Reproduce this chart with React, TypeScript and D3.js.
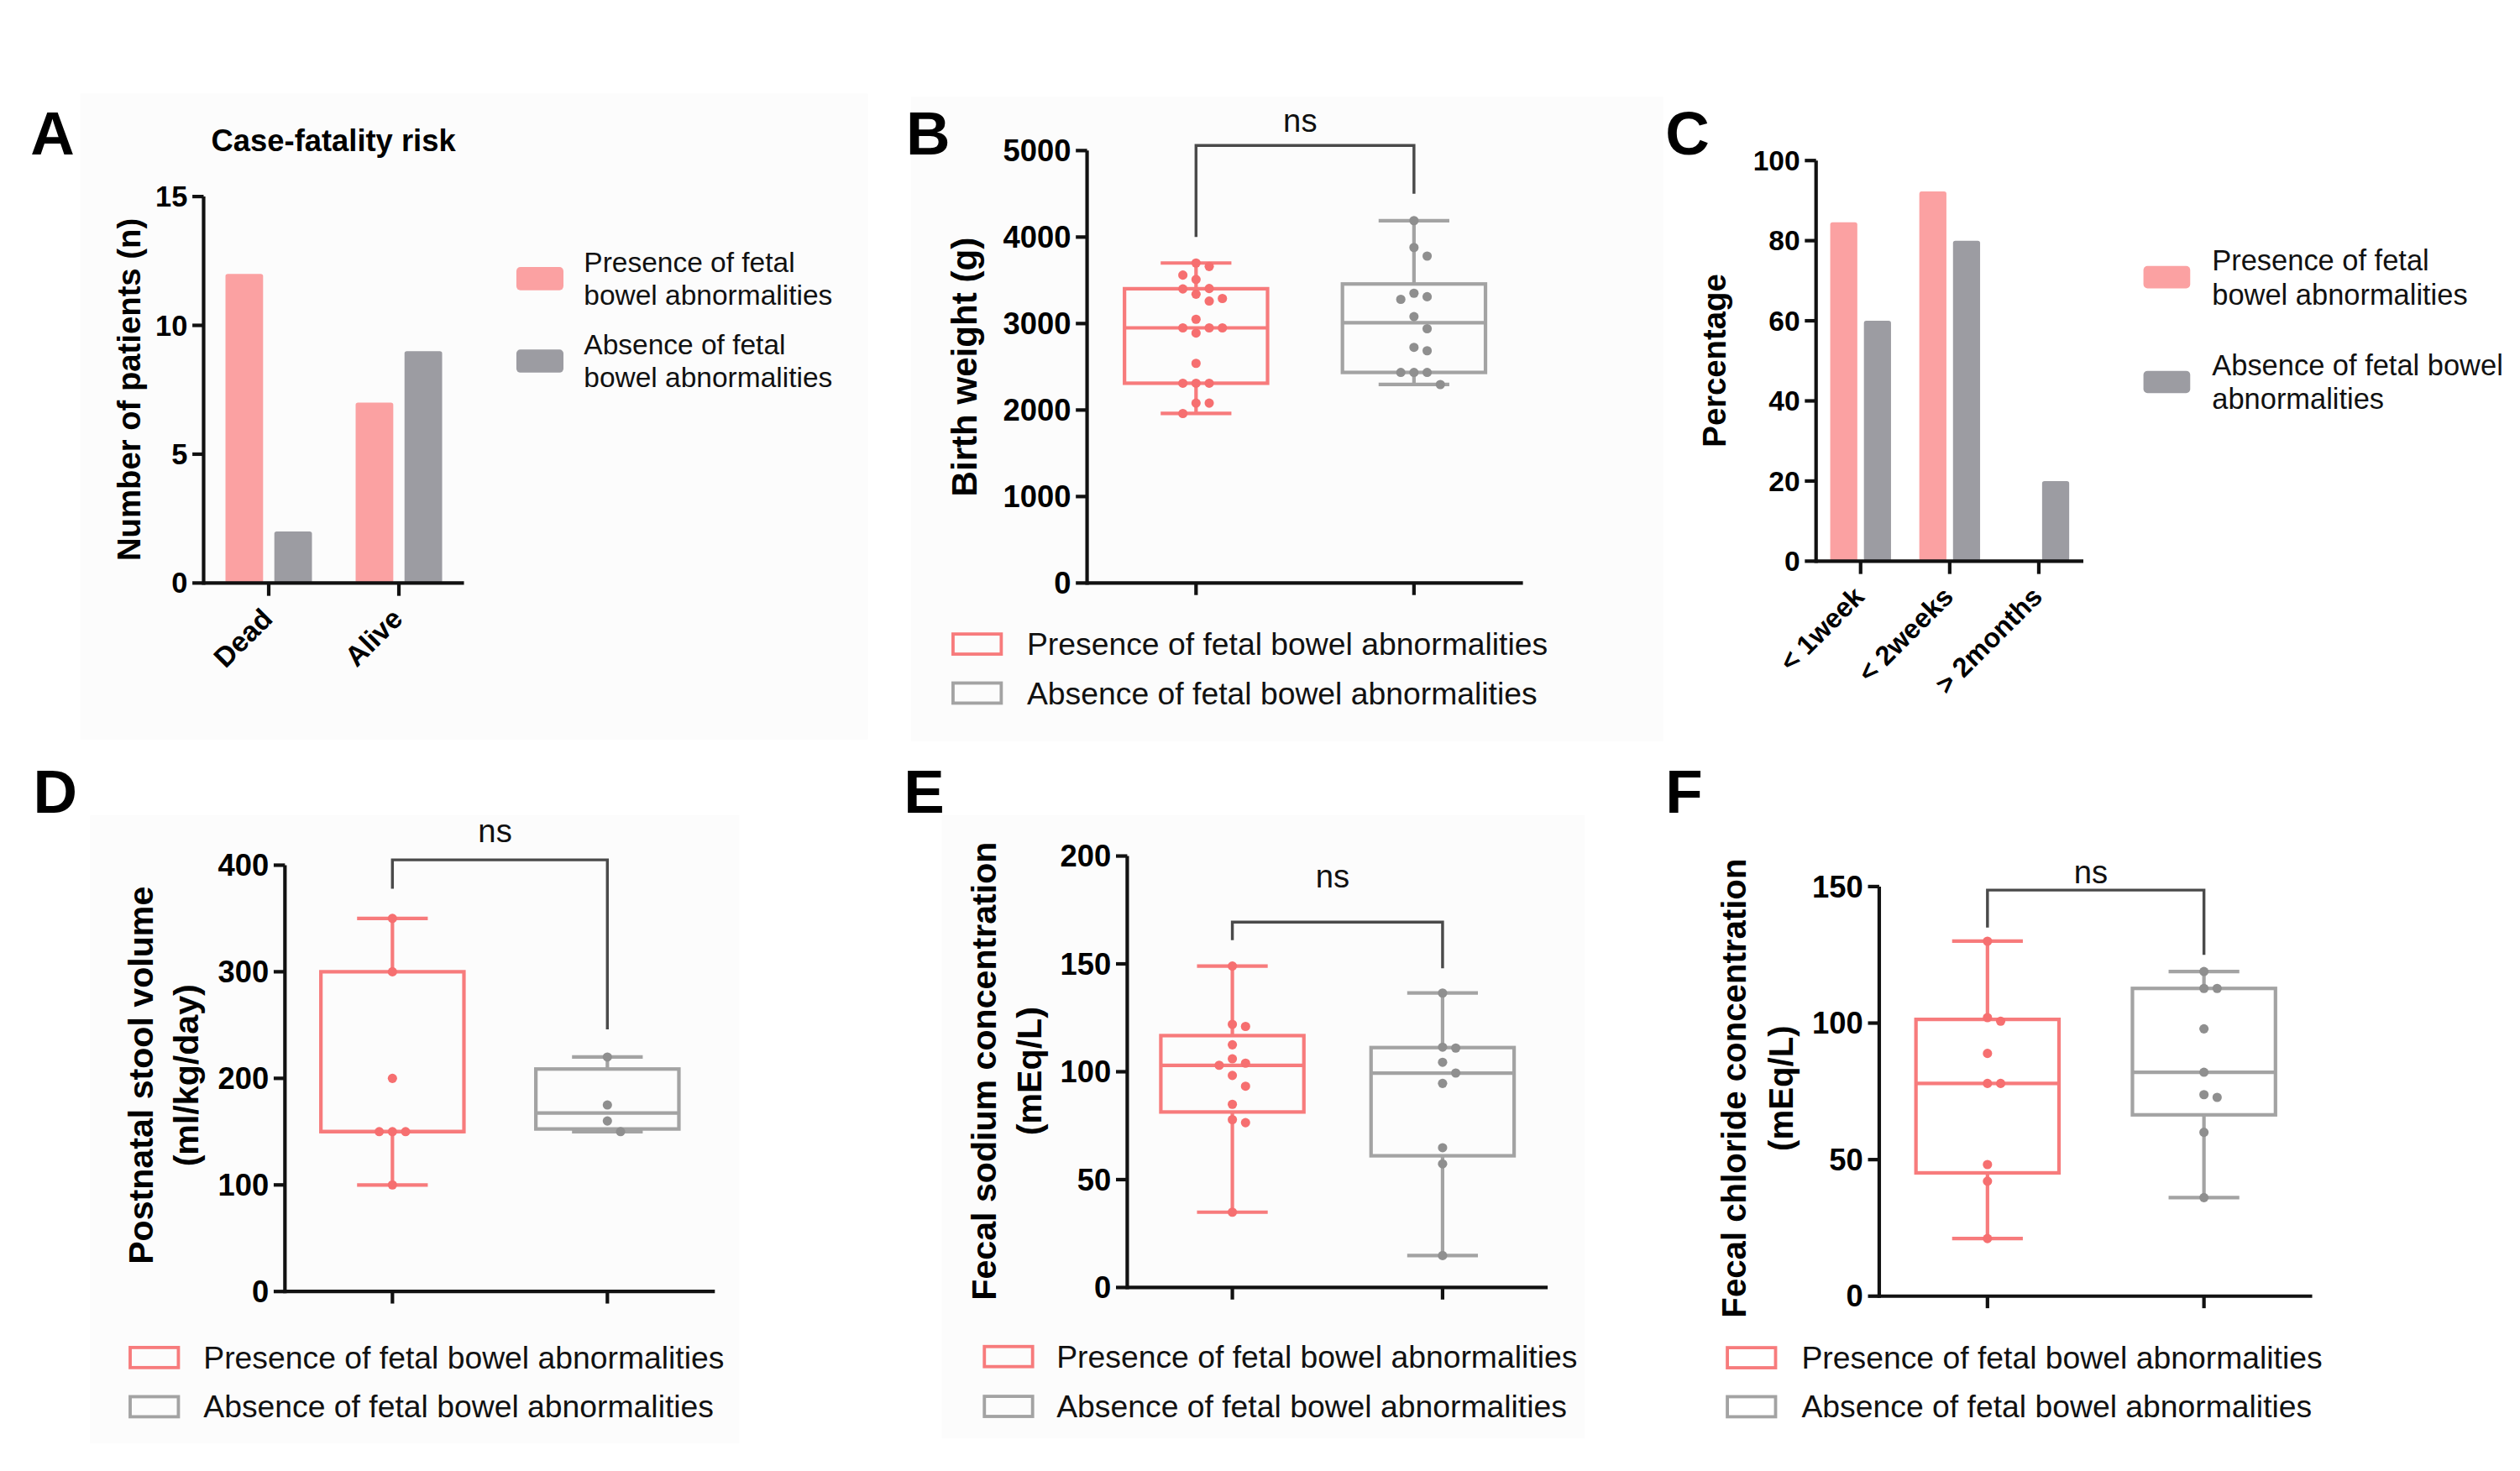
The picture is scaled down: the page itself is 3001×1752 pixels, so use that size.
import * as d3 from "d3";

// ---- data ----
const groupNames = ["Presence of fetal bowel abnormalities", "Absence of fetal bowel abnormalities"];

// A: case-fatality counts
const fatalityCategories = ["Dead", "Alive"];
const fatalityPresence = [12, 7];
const fatalityAbsence = [2, 9];
const fatalityTicks = [0, 5, 10, 15];
const fatalityLegend = [["Presence of fetal", "bowel abnormalities"], ["Absence of fetal", "bowel abnormalities"]];

// C: percentage by duration
const durationCategories = ["< 1week", "< 2weeks", "> 2months"];
const durationPresence = [84.6, 92.3, 0];
const durationAbsence = [60, 80, 20];
const percentTicks = [0, 20, 40, 60, 80, 100];
const durationLegend = [["Presence of fetal", "bowel abnormalities"], ["Absence of fetal bowel", "abnormalities"]];

// B: birth weight (g)
const birthPresence = [3700, 3660, 3560, 3510, 3405, 3400, 3340, 3290, 3260, 3050, 2950, 2950, 2950, 2890, 2540, 2310, 2310, 2310, 2080, 2080, 1960];
const birthAbsence = [4190, 3880, 3780, 3350, 3310, 3280, 3080, 2940, 2725, 2685, 2435, 2435, 2435, 2295];
const birthTicks = [0, 1000, 2000, 3000, 4000, 5000];
const birthBracket = [4000, 5060, 4500];

// D: postnatal stool volume
const stoolPresence = [350, 300, 200, 150, 150, 150, 100];
const stoolAbsence = [220, 175, 160, 150];
const stoolTicks = [0, 100, 200, 300, 400];
const stoolBracket = [378, 405, 246];

// E: fecal sodium
const sodiumPresence = [149, 122, 121, 112.5, 106, 104, 103, 98.3, 93.3, 84.9, 77.8, 76.4, 34.9];
const sodiumAbsence = [136.5, 111.4, 111, 104.4, 99.4, 94.6, 64.8, 57.3, 14.8];
const sodiumTicks = [0, 50, 100, 150, 200];
const sodiumBracket = [161, 169.4, 148];

// F: fecal chloride
const chloridePresence = [130, 102, 100.7, 88.9, 77.9, 77.9, 48.2, 42.1, 21.1];
const chlorideAbsence = [118.9, 112.7, 112.7, 97.9, 82, 73.8, 72.8, 60, 36.1];
const chlorideTicks = [0, 50, 100, 150];
const chlorideBracket = [135, 148.7, 125];

// ---- styling ----
const FONT = "Arial, 'Liberation Sans', Helvetica, sans-serif";
const PINK_BAR = "#fba1a2";
const GREY_BAR = "#9c9ca2";
const PINK_LINE = "#f77b7c";
const PINK_DOT = "#f66f70";
const GREY_LINE = "#a3a3a3";
const GREY_DOT = "#8f8f8f";
const AXIS = "#111";
const AXIS_W = 2.2;
const PANEL_BG = "#fcfcfc";

// GraphPad-style percentile ((n+1)p rank)
function gpQuantile(sorted: number[], p: number) {
  const n = sorted.length;
  const h = (n + 1) * p;
  if (h <= 1) return sorted[0];
  if (h >= n) return sorted[n - 1];
  const lo = Math.floor(h);
  return sorted[lo - 1] + (h - lo) * (sorted[lo] - sorted[lo - 1]);
}

// simple greedy beeswarm so scatter dots don't overlap
function swarm(values: number[], y: (v: number) => number, step: number, minDist: number) {
  const order = values.map((_, i) => i).sort((a, b) => values[b] - values[a]);
  const placed: { x: number; y: number }[] = [];
  const out = values.map(() => 0);
  const cands = [0, 1, -1, 2, -2, 3, -3, 4, -4];
  for (const i of order) {
    const py = y(values[i]);
    for (const c of cands) {
      const px = c * step;
      if (placed.every(p => Math.hypot(p.x - px, p.y - py) >= minDist)) {
        out[i] = px;
        placed.push({ x: px, y: py });
        break;
      }
    }
  }
  return out;
}

function YAxis({ x, y, ticks, size }: { x: number; y: d3.ScaleLinear<number, number>; ticks: number[]; size: number }) {
  const [b, t] = y.range();
  return (
    <g>
      <line x1={x} x2={x} y1={t} y2={b + AXIS_W / 2} stroke={AXIS} strokeWidth={AXIS_W} />
      {ticks.map(v => (
        <g key={v}>
          <line x1={x - 7} x2={x} y1={y(v)} y2={y(v)} stroke={AXIS} strokeWidth={AXIS_W} />
          <text x={x - 10} y={y(v)} dy="0.35em" textAnchor="end" fontSize={size} fontWeight="bold" fontFamily={FONT}>{v}</text>
        </g>
      ))}
    </g>
  );
}

function YLabel({ lines, xs, cy, size }: { lines: string[]; xs: number[]; cy: number; size: number }) {
  return (
    <g>
      {lines.map((l, i) => (
        <text key={l} transform={`translate(${xs[i]},${cy}) rotate(-90)`} dy="0.3em" textAnchor="middle"
          fontSize={size} fontWeight="bold" fontFamily={FONT}>{l}</text>
      ))}
    </g>
  );
}

function Letter({ text, x, y }: { text: string; x: number; y: number }) {
  return <text x={x} y={y} fontSize={38} fontWeight="bold" fontFamily={FONT}>{text}</text>;
}

type BarProps = {
  x0: number; x1: number; yTop: number; yBottom: number; max: number; ticks: number[]; tickSize: number;
  categories: string[]; presence: number[]; absence: number[];
  inner: number; outer: number; catSize: number;
  yLabel: string; yLabelX: number; yLabelY: number;
  legend: string[][]; legendX: number; legendTextX: number; legendY: number[]; legendGap: number; legendSize: number;
  rectW: number; rectH: number;
};

function BarPanel(p: BarProps) {
  const x = d3.scaleBand<string>().domain(p.categories).range([p.x0, p.x1]);
  const sub = d3.scaleBand<string>().domain(["p", "a"]).range([0, x.bandwidth()]).paddingInner(p.inner).paddingOuter(p.outer);
  const y = d3.scaleLinear().domain([0, p.max]).range([p.yBottom, p.yTop]);
  const series = [
    { key: "p", vals: p.presence, color: PINK_BAR },
    { key: "a", vals: p.absence, color: GREY_BAR },
  ];
  return (
    <g>
      {series.map(s =>
        p.categories.map((c, i) =>
          s.vals[i] > 0 ? (
            <rect key={s.key + c} x={(x(c) ?? 0) + (sub(s.key) ?? 0)} width={sub.bandwidth()}
              y={y(s.vals[i])} height={y(0) - y(s.vals[i])} fill={s.color} rx={1.5} />
          ) : null
        )
      )}
      <YAxis x={p.x0} y={y} ticks={p.ticks} size={p.tickSize} />
      <line x1={p.x0} x2={p.x1} y1={p.yBottom} y2={p.yBottom} stroke={AXIS} strokeWidth={AXIS_W} />
      {p.categories.map(c => {
        const cx = (x(c) ?? 0) + x.bandwidth() / 2;
        return (
          <g key={c}>
            <line x1={cx} x2={cx} y1={p.yBottom} y2={p.yBottom + 8} stroke={AXIS} strokeWidth={AXIS_W} />
            <text transform={`translate(${cx - 1},${p.yBottom + 19}) rotate(-45)`} dy="0.35em" textAnchor="end"
              fontSize={p.catSize} fontWeight="bold" fontFamily={FONT}>{c}</text>
          </g>
        );
      })}
      <YLabel lines={[p.yLabel]} xs={[p.yLabelX]} cy={p.yLabelY} size={20} />
      {p.legend.map((lines, i) => (
        <g key={i}>
          <rect x={p.legendX} y={p.legendY[i] - p.rectH / 2} width={p.rectW} height={p.rectH} rx={2.5}
            fill={i === 0 ? PINK_BAR : GREY_BAR} />
          {lines.map((l, j) => (
            <text key={j} x={p.legendTextX} y={p.legendY[i] + (j - 0.5) * p.legendGap} dy="0.35em"
              fontSize={p.legendSize} fontFamily={FONT} fill="#111">{l}</text>
          ))}
        </g>
      ))}
    </g>
  );
}

type BoxProps = {
  x0: number; x1: number; yTop: number; yBottom: number; max: number; ticks: number[];
  presence: number[]; absence: number[]; bracket: number[]; nsGap: number;
  yLabel: string[]; yLabelX: number[]; yLabelY: number; yLabelSize: number;
  legendX: number; legendTextX: number; legendY: number; legendGap: number;
};

function BoxPanel(p: BoxProps) {
  const x = d3.scaleBand<string>().domain(["p", "a"]).range([p.x0, p.x1]);
  const y = d3.scaleLinear().domain([0, p.max]).range([p.yBottom, p.yTop]);
  const boxW = 89;
  const capW = 44;
  const groups = [
    { key: "p", vals: p.presence, line: PINK_LINE, dot: PINK_DOT },
    { key: "a", vals: p.absence, line: GREY_LINE, dot: GREY_DOT },
  ];
  const cxOf = (k: string) => (x(k) ?? 0) + x.bandwidth() / 2;
  const xL = cxOf("p");
  const xR = cxOf("a");
  return (
    <g>
      {groups.map(g => {
        const s = [...g.vals].sort(d3.ascending);
        const q1 = gpQuantile(s, 0.25);
        const med = gpQuantile(s, 0.5);
        const q3 = gpQuantile(s, 0.75);
        const lo = s[0];
        const hi = s[s.length - 1];
        const cx = cxOf(g.key);
        const offs = swarm(g.vals, y, 8.2, 7.8);
        return (
          <g key={g.key} stroke={g.line} strokeWidth={2.2} fill="none">
            <line x1={cx} x2={cx} y1={y(hi)} y2={y(q3)} />
            <line x1={cx} x2={cx} y1={y(q1)} y2={y(lo)} />
            <line x1={cx - capW / 2} x2={cx + capW / 2} y1={y(hi)} y2={y(hi)} />
            <line x1={cx - capW / 2} x2={cx + capW / 2} y1={y(lo)} y2={y(lo)} />
            <rect x={cx - boxW / 2} width={boxW} y={y(q3)} height={y(q1) - y(q3)} />
            <line x1={cx - boxW / 2} x2={cx + boxW / 2} y1={y(med)} y2={y(med)} />
            {g.vals.map((v, i) => (
              <circle key={i} cx={cx + offs[i]} cy={y(v)} r={2.9} fill={g.dot} stroke="none" />
            ))}
          </g>
        );
      })}
      <YAxis x={p.x0} y={y} ticks={p.ticks} size={19} />
      <line x1={p.x0} x2={p.x1} y1={p.yBottom} y2={p.yBottom} stroke={AXIS} strokeWidth={AXIS_W} />
      {[xL, xR].map((cx, i) => (
        <line key={i} x1={cx} x2={cx} y1={p.yBottom} y2={p.yBottom + 7.5} stroke={AXIS} strokeWidth={AXIS_W} />
      ))}
      <path d={`M${xL},${y(p.bracket[0])}V${y(p.bracket[1])}H${xR}V${y(p.bracket[2])}`}
        fill="none" stroke="#4a4a4a" strokeWidth={1.8} />
      <text x={(xL + xR) / 2 - 3} y={y(p.bracket[1]) - p.nsGap} textAnchor="middle" fontSize={20} fontFamily={FONT} fill="#111">ns</text>
      <YLabel lines={p.yLabel} xs={p.yLabelX} cy={p.yLabelY} size={p.yLabelSize} />
      {groupNames.map((n, i) => (
        <g key={n}>
          <rect x={p.legendX} y={p.legendY + i * p.legendGap - 6.25} width={30} height={12.5}
            fill="none" stroke={i === 0 ? PINK_LINE : GREY_LINE} strokeWidth={2} />
          <text x={p.legendTextX} y={p.legendY + i * p.legendGap} dy="0.35em" fontSize={19.5} fontFamily={FONT} fill="#111">{n}</text>
        </g>
      ))}
    </g>
  );
}

export default function App() {
  return (
    <svg width={3001} height={1752} viewBox="0 0 1568 915"
      style={{ position: "absolute", left: 0, top: 0, display: "block", background: "#fff" }}>
      <rect x={0} y={0} width={1568} height={915} fill="#fff" />
      <rect x={50} y={58} width={490} height={402} fill={PANEL_BG} />
      <rect x={567} y={60} width={468} height={401} fill={PANEL_BG} />
      <rect x={56} y={507} width={404} height={391} fill={PANEL_BG} />
      <rect x={586} y={507} width={400} height={388} fill={PANEL_BG} />

      <Letter text="A" x={19} y={96} />
      <text x={207.5} y={93.6} textAnchor="middle" fontSize={19} fontWeight="bold" fontFamily={FONT}>Case-fatality risk</text>
      <BarPanel x0={126.7} x1={288.7} yTop={122.1} yBottom={362.6} max={15} ticks={fatalityTicks} tickSize={18}
        categories={fatalityCategories} presence={fatalityPresence} absence={fatalityAbsence}
        inner={0.23} outer={0.447} catSize={17.5}
        yLabel="Number of patients (n)" yLabelX={81} yLabelY={242.2}
        legend={fatalityLegend} legendX={321.3} legendTextX={363.3} legendY={[173.2, 224.5]} legendGap={20.6}
        legendSize={17.5} rectW={29.3} rectH={14.4} />

      <Letter text="B" x={563.8} y={96} />
      <BoxPanel x0={676.4} x1={947.6} yTop={93.5} yBottom={362.6} max={5000} ticks={birthTicks}
        presence={birthPresence} absence={birthAbsence} bracket={birthBracket} nsGap={8.5}
        yLabel={["Birth weight (g)"]} yLabelX={[601.2]} yLabelY={228.2} yLabelSize={22}
        legendX={593} legendTextX={639} legendY={400.6} legendGap={30.5} />

      <Letter text="C" x={1036.3} y={96.2} />
      <BarPanel x0={1130} x1={1296.3} yTop={99.7} yBottom={349} max={100} ticks={percentTicks} tickSize={17.5}
        categories={durationCategories} presence={durationPresence} absence={durationAbsence}
        inner={0.196} outer={0.42} catSize={17}
        yLabel="Percentage" yLabelX={1067.8} yLabelY={224.2}
        legend={durationLegend} legendX={1333.7} legendTextX={1376.4} legendY={[172.3, 237.5]} legendGap={21.3}
        legendSize={18} rectW={29.1} rectH={13.9} />

      <Letter text="D" x={20.6} y={505.6} />
      <BoxPanel x0={177.3} x1={444.8} yTop={538.2} yBottom={803.5} max={400} ticks={stoolTicks}
        presence={stoolPresence} absence={stoolAbsence} bracket={stoolBracket} nsGap={10.8}
        yLabel={["Postnatal stool volume", "(ml/kg/day)"]} yLabelX={[88.6, 116.6]} yLabelY={669} yLabelSize={21.5}
        legendX={81} legendTextX={126.6} legendY={844.6} legendGap={30.6} />

      <Letter text="E" x={562.4} y={505.6} />
      <BoxPanel x0={701.4} x1={963} yTop={532.5} yBottom={801} max={200} ticks={sodiumTicks}
        presence={sodiumPresence} absence={sodiumAbsence} bracket={sodiumBracket} nsGap={21.3}
        yLabel={["Fecal sodium concentration", "(mEq/L)"]} yLabelX={[613, 641.6]} yLabelY={666.3} yLabelSize={21.5}
        legendX={612.5} legendTextX={657.4} legendY={844} legendGap={31} />

      <Letter text="F" x={1036.3} y={505.6} />
      <BoxPanel x0={1169.3} x1={1438.7} yTop={551.5} yBottom={806.4} max={150} ticks={chlorideTicks}
        presence={chloridePresence} absence={chlorideAbsence} bracket={chlorideBracket} nsGap={4.2}
        yLabel={["Fecal chloride concentration", "(mEq/L)"]} yLabelX={[1080, 1109]} yLabelY={677} yLabelSize={21}
        legendX={1074.8} legendTextX={1121} legendY={844.7} legendGap={30.5} />
    </svg>
  );
}
